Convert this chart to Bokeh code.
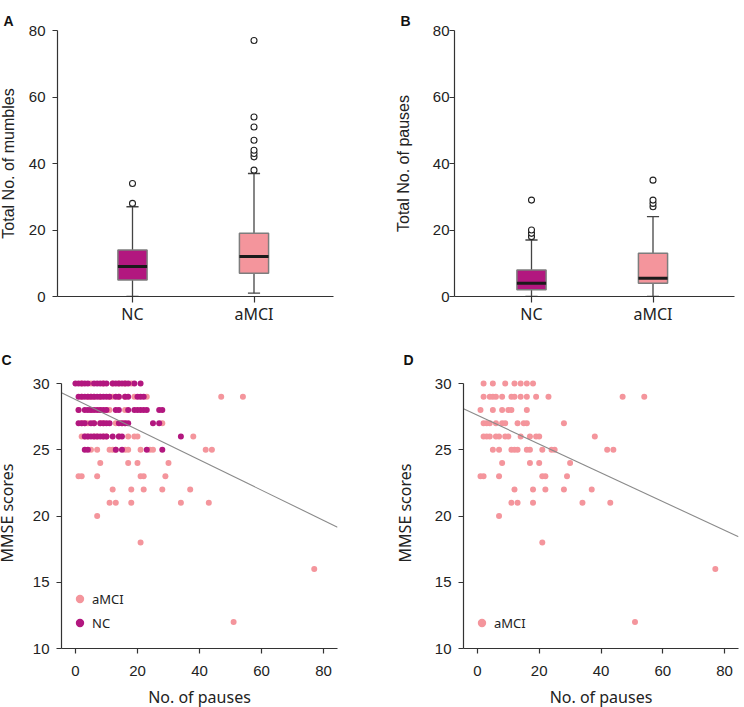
from bokeh.plotting import figure
from bokeh.layouts import column, row
from bokeh.models import FixedTicker, Range1d, ColumnDataSource, Title
from bokeh.embed import file_html
from bokeh.resources import INLINE

# ---------------- data ----------------
groups = ["NC", "aMCI"]
group_pos = [1, 2]

# Panel A: Total No. of mumbles (box summaries)
mumbles_q1 = [5, 7]
mumbles_median = [9, 12]
mumbles_q3 = [14, 19]
mumbles_low = [0, 1]
mumbles_high = [27, 37]
mumbles_out_nc = [28, 34]
mumbles_out_amci = [38, 42, 43, 44, 47, 51, 54, 77]

# Panel B: Total No. of pauses (box summaries)
pauses_q1 = [2, 4]
pauses_median = [4, 5.5]
pauses_q3 = [8, 13]
pauses_low = [0, 0]
pauses_high = [17, 24]
pauses_out_nc = [18, 19, 20, 29]
pauses_out_amci = [27, 28, 29, 35]

# Panels C/D: No. of pauses vs MMSE
amci_pauses = [2, 5, 9, 12, 14, 16, 18,
               2, 4, 5, 6, 8, 11, 12, 14, 16, 19, 23, 47, 54,
               1, 5, 8, 10, 11, 16,
               2, 3, 4, 6, 8, 9, 13, 15, 16, 28,
               2, 3, 4, 6, 7, 9, 10, 14, 17, 19, 20, 38,
               5, 7, 11, 12, 13, 16, 17, 21, 24, 25, 42, 44,
               8, 17, 20, 30,
               1, 2, 7, 21, 22, 29,
               12, 18, 22, 28, 37,
               11, 13, 18, 34, 43,
               7, 21, 77, 51]
amci_mmse = [30] * 7 + [29] * 13 + [28] * 6 + [27] * 10 + [26] * 12 + [25] * 12 + \
            [24] * 4 + [23] * 6 + [22] * 5 + [21] * 5 + [20, 18, 16, 12]

nc_pauses = [0, 1, 2, 3, 4, 6, 7, 8, 9, 10, 12, 13, 14, 15, 16, 17, 19, 21,
             1, 2, 3, 4, 5, 6, 7, 8, 9, 10, 11, 13, 14, 16, 17, 20, 21, 22,
             1, 3, 4, 5, 6, 7, 8, 9, 10, 13, 14, 17, 19, 20, 21, 22, 23, 27, 28,
             1, 2, 3, 5, 6, 8, 9, 10, 11, 14, 15, 16, 17, 25, 27,
             3, 4, 5, 6, 7, 8, 9, 10, 12, 14, 15, 34,
             3, 4, 13, 15, 23, 28]
nc_mmse = [30] * 18 + [29] * 18 + [28] * 19 + [27] * 15 + [26] * 12 + [25] * 6

fit_all = (28.79, -0.114)    # intercept, slope (panel C)
fit_amci = (27.60, -0.1085)  # intercept, slope (panel D)

# ---------------- style ----------------
NC_COLOR = "#B2177F"
AMCI_COLOR = "#F4959C"
AX = "#333333"
TICK_FONT = "Liberation Sans"
TEXT_FONT = "Noto Sans"


def style_axes(p):
    p.xgrid.visible = False
    p.ygrid.visible = False
    p.outline_line_color = None
    for ax in (p.xaxis[0], p.yaxis[0]):
        ax.axis_line_color = AX
        ax.axis_line_width = 1.2
        ax.major_tick_line_color = AX
        ax.major_tick_line_width = 1.2
        ax.major_tick_in = 0
        ax.major_tick_out = 5
        ax.minor_tick_line_color = None
        ax.major_label_text_color = "#222222"
        ax.axis_label_text_color = "#222222"
        ax.axis_label_text_font_style = "normal"


def letter(p, txt, offset, standoff, valign):
    p.title.text = txt
    p.title.align = "left"
    p.title.vertical_align = valign
    p.title.offset = offset
    p.title.standoff = standoff
    p.title.text_font = TICK_FONT
    p.title.text_font_size = "14px"
    p.title.text_font_style = "bold"
    p.title.text_color = "#111111"


def box_fig(txt, ylabel, q1, med, q3, lo, hi, out_nc, out_amci, left, fw, right, x_start,
            lab_standoff, title_standoff):
    p = figure(output_backend="svg", toolbar_location=None,
               frame_width=fw, frame_height=266,
               min_border_left=left, min_border_right=right,
               min_border_top=30, min_border_bottom=34,
               x_range=Range1d(x_start, x_start + fw / 121.5), y_range=Range1d(0, 80))
    style_axes(p)
    src = ColumnDataSource(dict(x=group_pos, q1=q1, med=med, q3=q3, lo=lo, hi=hi,
                                cl=[x - 0.05 for x in group_pos], cr=[x + 0.05 for x in group_pos],
                                ml=[x - 0.12 for x in group_pos], mr=[x + 0.12 for x in group_pos],
                                color=[NC_COLOR, AMCI_COLOR]))
    p.segment(x0="x", y0="q3", x1="x", y1="hi", source=src, line_color="#444444", line_width=1.3)
    p.segment(x0="x", y0="lo", x1="x", y1="q1", source=src, line_color="#444444", line_width=1.3)
    p.segment(x0="cl", y0="hi", x1="cr", y1="hi", source=src, line_color="#444444", line_width=1.3)
    p.segment(x0="cl", y0="lo", x1="cr", y1="lo", source=src, line_color="#444444", line_width=1.3)
    p.vbar(x="x", width=0.24, bottom="q1", top="q3", source=src, fill_color="color",
           line_color="#7d7d7d", line_width=1.5)
    p.segment(x0="ml", y0="med", x1="mr", y1="med", source=src, line_color="#1a1a1a", line_width=3)
    p.scatter(x=[group_pos[0]] * len(out_nc), y=out_nc, marker="circle", size=6,
              fill_color="white", line_color="#222222", line_width=1.1)
    p.scatter(x=[group_pos[1]] * len(out_amci), y=out_amci, marker="circle", size=6,
              fill_color="white", line_color="#222222", line_width=1.1)

    p.xaxis.ticker = FixedTicker(ticks=group_pos)
    p.xaxis.major_label_overrides = {g: n for g, n in zip(group_pos, groups)}
    p.xaxis.major_tick_out = 6
    p.xaxis.major_label_standoff = 0
    p.xaxis.major_label_text_font = TEXT_FONT
    p.xaxis.major_label_text_font_size = "16px"
    p.yaxis.ticker = FixedTicker(ticks=[0, 20, 40, 60, 80])
    p.yaxis.major_label_text_font = TICK_FONT
    p.yaxis.major_label_text_font_size = "15px"
    p.yaxis.major_label_standoff = lab_standoff
    p.yaxis.axis_label = ylabel
    p.yaxis.axis_label_text_font = TICK_FONT
    p.yaxis.axis_label_text_font_size = "16px"
    p.yaxis.axis_label_standoff = title_standoff
    # panel letter as the title, lifted by a small invisible title stacked under it
    letter(p, txt, -54, 0, "top")
    p.add_layout(Title(text=".", text_font_size="7px", standoff=0, text_alpha=0), "above")
    return p


def scatter_fig(txt, left, fw, right, fit, with_nc, title_standoff):
    p = figure(output_backend="svg", toolbar_location=None,
               frame_width=fw, frame_height=271,
               min_border_left=left, min_border_right=right,
               min_border_top=47, min_border_bottom=59,
               x_range=Range1d(-4.5, 84.5), y_range=Range1d(10, 10 + 271 / 13.25))
    style_axes(p)
    p.scatter(x=amci_pauses, y=amci_mmse, marker="circle", size=6, fill_color=AMCI_COLOR,
              line_color=None, legend_label="aMCI")
    if with_nc:
        p.scatter(x=nc_pauses, y=nc_mmse, marker="circle", size=6, fill_color=NC_COLOR,
                  line_color=None, legend_label="NC")
    xs = [p.x_range.start, p.x_range.end]
    p.line(x=xs, y=[fit[0] + fit[1] * x for x in xs], line_color="#8a8a8a", line_width=1.1)

    p.xaxis.ticker = FixedTicker(ticks=[0, 20, 40, 60, 80])
    p.yaxis.ticker = FixedTicker(ticks=[10, 15, 20, 25, 30])
    p.yaxis.bounds = (10, 30)
    for ax in (p.xaxis[0], p.yaxis[0]):
        ax.major_label_text_font = TICK_FONT
        ax.major_label_text_font_size = "15px"
    p.yaxis.major_label_standoff = 7
    p.xaxis.major_label_standoff = 12
    p.xaxis.axis_label = "No. of pauses"
    p.xaxis.axis_label_text_font = TEXT_FONT
    p.xaxis.axis_label_text_font_size = "16px"
    p.xaxis.axis_label_standoff = 7
    p.yaxis.axis_label = "MMSE scores"
    p.yaxis.axis_label_text_font = TEXT_FONT
    p.yaxis.axis_label_text_font_size = "16px"
    p.yaxis.axis_label_standoff = title_standoff

    lg = p.legend[0]
    lg.location = (8, 15)
    lg.border_line_color = None
    lg.background_fill_alpha = 0
    lg.padding = 0
    lg.margin = 0
    lg.spacing = 3
    lg.glyph_width = 21
    lg.glyph_height = 21
    lg.label_height = 21
    lg.label_standoff = 2
    lg.label_text_font = TEXT_FONT
    lg.label_text_font_size = "13px"
    lg.label_text_color = "#222222"
    letter(p, txt, -60, 20, "bottom")
    return p


pA = box_fig("A", "Total No. of mumbles", mumbles_q1, mumbles_median, mumbles_q3,
             mumbles_low, mumbles_high, mumbles_out_nc, mumbles_out_amci,
             65, 276, 31, 1 - 75 / 121.5, 7, 9)
pB = box_fig("B", "Total No. of pauses", pauses_q1, pauses_median, pauses_q3,
             pauses_low, pauses_high, pauses_out_nc, pauses_out_amci,
             90, 280, 2, 1 - 77 / 121.5, 0, 18)
pC = scatter_fig("C", 65, 276, 31, fit_all, True, 12)
pD = scatter_fig("D", 95, 275, 2, fit_amci, False, 16)

root = column(row(pA, pB), row(pC, pD))
root.margin = (0, -8, -8, -8)

open("out.html", "w").write(file_html(root, INLINE))
